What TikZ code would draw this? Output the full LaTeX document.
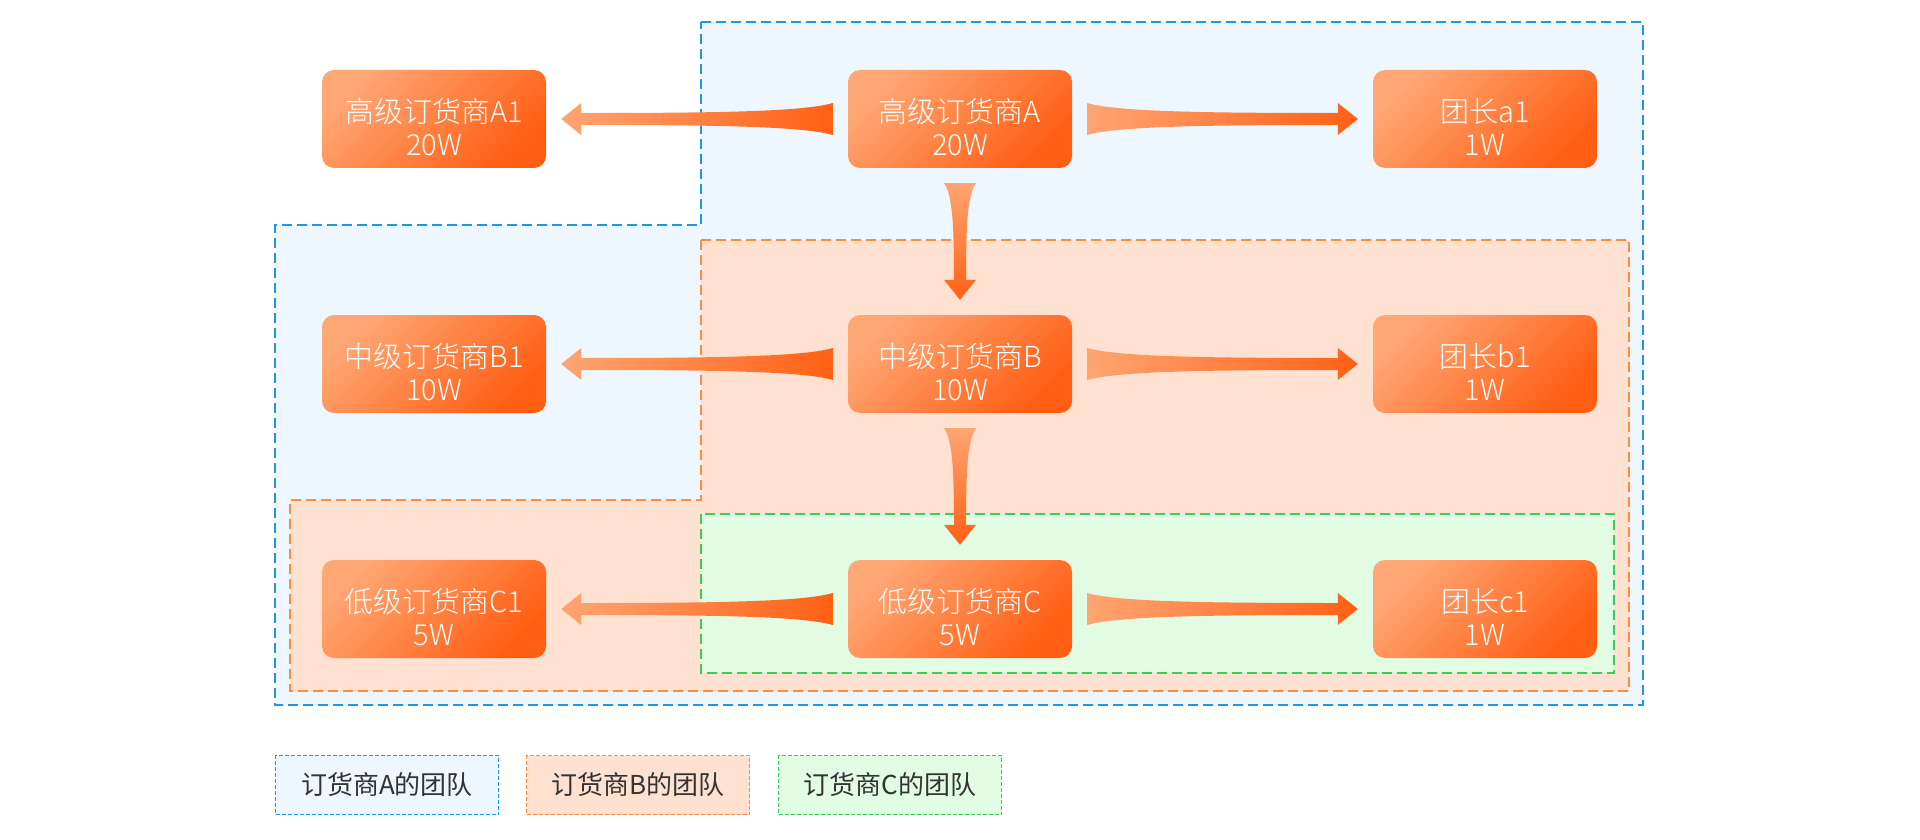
\documentclass[tikz,border=0pt]{standalone}
\usepackage{fontspec}
\setmainfont{Noto Sans CJK SC}[UprightFont=* Light]
\newfontfamily\keyfont{Noto Sans CJK SC}
\usepackage{tikz}
\usetikzlibrary{positioning,calc}
\definecolor{teamblue}{HTML}{1E96F0}
\definecolor{teambluebg}{HTML}{EEF7FF}
\definecolor{teamorange}{HTML}{FF8B3D}
\definecolor{teamorangebg}{HTML}{FFE1D2}
\definecolor{teamgreen}{HTML}{3ACD5A}
\definecolor{teamgreenbg}{HTML}{E1FCE2}
\definecolor{ndlight}{HTML}{FFA775}
\definecolor{nddark}{HTML}{FF5E13}
\definecolor{arlight}{HTML}{FFA572}
\definecolor{ardark}{HTML}{FF6014}
\definecolor{keytext}{HTML}{333333}

\tikzset{
  trader/.style={rounded corners=12pt, minimum width=224pt, minimum height=98pt,
    top color=ndlight, bottom color=nddark, shading angle=45,
    label={[tradertext]center:#1}},
  tradertext/.style={text=white, align=center, yshift=-8pt, font=\fontsize{29}{33}\selectfont},
  harr/.style={left color=arlight, right color=ardark},
  varr/.style={top color=arlight, bottom color=ardark},
  teamA/.style={draw=teamblue, fill=teambluebg, line width=2.5pt, dash pattern=on 10pt off 5pt},
  teamB/.style={draw=teamorange, fill=teamorangebg, line width=2.5pt, dash pattern=on 10pt off 5pt},
  teamC/.style={draw=teamgreen, fill=teamgreenbg, line width=2.5pt, dash pattern=on 10pt off 5pt},
  keybox/.style={line width=1pt, dash pattern=on 4pt off 2pt, minimum width=223pt,
    minimum height=59pt, text=keytext, font=\keyfont\fontsize{26}{30}\selectfont},
}

\newcommand{\flowarrow}[3][harr]{%
  \coordinate (fb) at ($(#2)!15pt!(#3)$);
  \coordinate (ft) at ($(#3)!15pt!(#2)$);
  \coordinate (fh) at ($(ft)!20pt!(fb)$);
  \coordinate (f1) at ($(fb)!0.12!(fh)$);
  \coordinate (f2) at ($(fb)!0.5!(fh)$);
  \shade[#1] ($(fb)!16pt!90:(ft)$)
    .. controls ($(f1)!7pt!90:(ft)$) and ($(f2)!6pt!90:(ft)$) .. ($(fh)!6pt!90:(ft)$)
    -- ($(fh)!16pt!90:(ft)$) -- (ft) -- ($(fh)!16pt!-90:(ft)$) -- ($(fh)!6pt!-90:(ft)$)
    .. controls ($(f2)!6pt!-90:(ft)$) and ($(f1)!7pt!-90:(ft)$) .. ($(fb)!16pt!-90:(ft)$)
    -- cycle;
}

\begin{document}
\begin{tikzpicture}[x=1pt, y=-1pt]
  \fill[white] (0,0) rectangle (1920,840);
  \useasboundingbox (0,0) rectangle (1920,840);

  \draw[teamA] (701,22) -- (1643,22) -- (1643,705) -- (275,705) -- (275,225) -- (701,225) -- cycle;
  \draw[teamB] (701,240) -- (1629,240) -- (1629,691) -- (290,691) -- (290,500) -- (701,500) -- cycle;
  \draw[teamC] (701,514) rectangle (1614,673);

  \foreach \nm/\y/\lv/\ch/\amt in {A/119/高级/a/20W, B/364/中级/b/10W, C/609/低级/c/5W} {
    \node[trader={\lv 订货商\nm1\\\amt}] (\nm1) at (434,\y) {};
    \node[trader={\lv 订货商\nm\\\amt}] (\nm) at (960,\y) {};
    \node[trader={团长\ch1\\1W}] (\ch1) at (1485,\y) {};
    \flowarrow[harr]{\nm.west}{\nm1.east}
    \flowarrow[harr]{\nm.east}{\ch1.west}
  }
  \flowarrow[varr]{A.south}{B.north}
  \flowarrow[varr]{B.south}{C.north}

  \node[keybox, draw=teamblue, fill=teambluebg] (keyA) at (387,785) {订货商A的团队};
  \node[keybox, draw=teamorange, fill=teamorangebg] (keyB) at (638,785) {订货商B的团队};
  \node[keybox, draw=teamgreen, fill=teamgreenbg] (keyC) at (890,785) {订货商C的团队};
\end{tikzpicture}
\end{document}
